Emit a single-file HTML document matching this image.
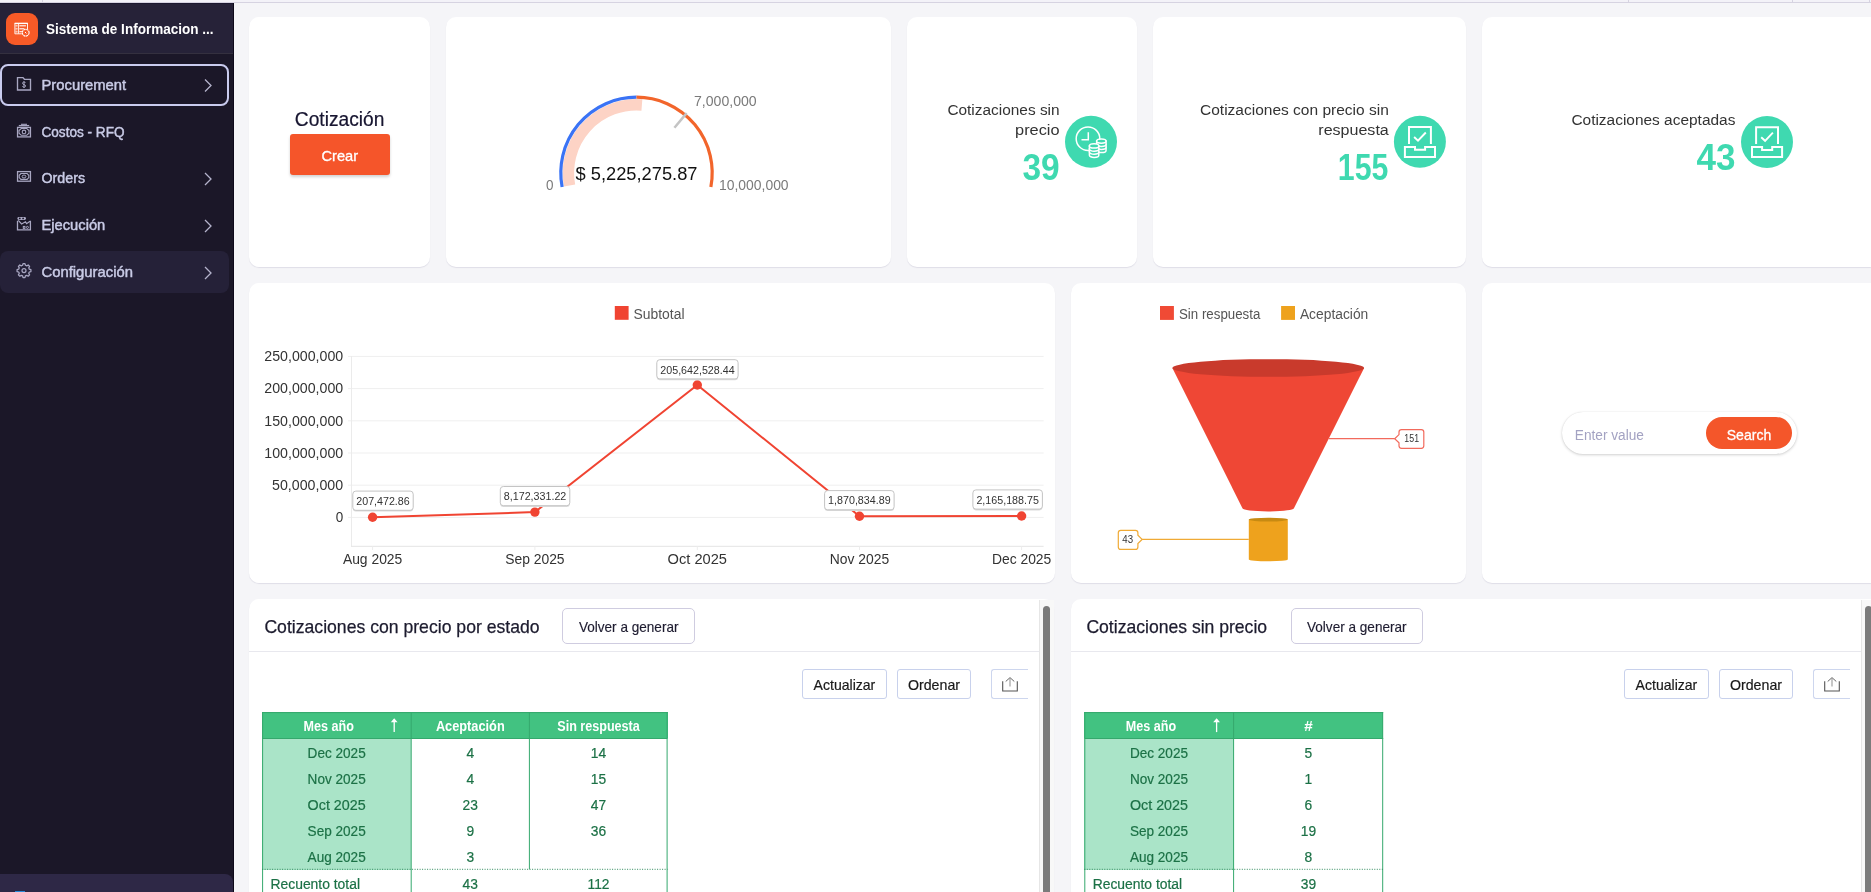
<!DOCTYPE html>
<html><head><meta charset="utf-8"><style>
html,body{margin:0;padding:0;}
body{width:1871px;height:892px;overflow:hidden;position:relative;background:#f5f5f8;font-family:"Liberation Sans", sans-serif;}
svg{position:absolute;left:0;top:0;will-change:transform;}
svg text{font-family:"Liberation Sans", sans-serif;}
</style></head><body>
<div style="position:absolute;left:0px;top:0px;width:1871px;height:2px;background:#f3f2f8;"></div>
<div style="position:absolute;left:0px;top:2px;width:1871px;height:1px;background:#d6d3e1;"></div>
<div style="position:absolute;left:42px;top:0px;width:1px;height:2px;background:#d6d3e1;"></div>
<div style="position:absolute;left:1628px;top:0px;width:1px;height:2px;background:#d6d3e1;"></div>
<div style="position:absolute;left:1792px;top:0px;width:1px;height:2px;background:#d6d3e1;"></div>
<div style="position:absolute;left:1869px;top:0px;width:1px;height:2px;background:#d6d3e1;"></div>
<div style="position:absolute;left:0px;top:3px;width:233px;height:889px;background:#1b1728;"></div>
<div style="position:absolute;left:233px;top:3px;width:1px;height:889px;background:#0e0a1a;"></div>
<div style="position:absolute;left:0px;top:3px;width:233px;height:1px;background:#1c1830;"></div>
<div style="position:absolute;left:0px;top:4px;width:233px;height:49px;background:#262238;"></div>
<div style="position:absolute;left:0px;top:53px;width:233px;height:1px;background:#34303f;"></div>
<div style="position:absolute;left:6px;top:13px;width:32px;height:32px;background:#f75a27;border-radius:9px;"></div>
<div style="position:absolute;left:0px;top:64px;width:225px;height:38px;border:2px solid #c9cbee;border-radius:8px;"></div>
<div style="position:absolute;left:0px;top:251px;width:229px;height:42px;background:#252138;border-radius:8px;"></div>
<div style="position:absolute;left:0px;top:874px;width:233px;height:30px;background:#2e2846;border-radius:0 8px 0 0;"></div>
<div style="position:absolute;left:15px;top:891px;width:10px;height:2px;background:#2a8ad8;"></div>
<div style="position:absolute;left:249px;top:17px;width:181px;height:250px;background:#fff;border-radius:10px;box-shadow:0 1px 1px rgba(40,30,90,0.10);"></div>
<div style="position:absolute;left:446px;top:17px;width:445px;height:250px;background:#fff;border-radius:10px;box-shadow:0 1px 1px rgba(40,30,90,0.10);"></div>
<div style="position:absolute;left:907px;top:17px;width:230px;height:250px;background:#fff;border-radius:10px;box-shadow:0 1px 1px rgba(40,30,90,0.10);"></div>
<div style="position:absolute;left:1153px;top:17px;width:313px;height:250px;background:#fff;border-radius:10px;box-shadow:0 1px 1px rgba(40,30,90,0.10);"></div>
<div style="position:absolute;left:1482px;top:17px;width:398px;height:250px;background:#fff;border-radius:10px;box-shadow:0 1px 1px rgba(40,30,90,0.10);"></div>
<div style="position:absolute;left:249px;top:283px;width:806px;height:300px;background:#fff;border-radius:10px;box-shadow:0 1px 1px rgba(40,30,90,0.10);"></div>
<div style="position:absolute;left:1071px;top:283px;width:395px;height:300px;background:#fff;border-radius:10px;box-shadow:0 1px 1px rgba(40,30,90,0.10);"></div>
<div style="position:absolute;left:1482px;top:283px;width:398px;height:300px;background:#fff;border-radius:10px;box-shadow:0 1px 1px rgba(40,30,90,0.10);"></div>
<div style="position:absolute;left:249px;top:599px;width:805px;height:320px;background:#fff;border-radius:10px;box-shadow:0 1px 1px rgba(40,30,90,0.10);"></div>
<div style="position:absolute;left:1071px;top:599px;width:820px;height:320px;background:#fff;border-radius:10px;box-shadow:0 1px 1px rgba(40,30,90,0.10);"></div>
<div style="position:absolute;left:290px;top:134px;width:100px;height:40.7px;background:#f5552a;border-radius:3px;box-shadow:0 2px 3px rgba(0,0,0,0.18);"></div>
<div style="position:absolute;left:1562px;top:411.5px;width:235px;height:42px;background:#fff;border-radius:21px;box-shadow:0 1px 3px rgba(0,0,0,0.18), 0 0 1px rgba(0,0,0,0.12);"></div>
<div style="position:absolute;left:1706px;top:417px;width:86px;height:32px;background:#f4562a;border-radius:16px;"></div>
<div style="position:absolute;left:562.4px;top:608.3px;width:132.5px;height:35.6px;border:1px solid #cfcce0;border-radius:5px;box-sizing:border-box;background:#fff;"></div>
<div style="position:absolute;left:249px;top:651px;width:790px;height:1px;background:#e8e8ee;"></div>
<div style="position:absolute;left:802.3px;top:669.4px;width:84.3px;height:30px;border:1px solid #c8d1ec;border-radius:3px;box-sizing:border-box;background:#fff;"></div>
<div style="position:absolute;left:897.4px;top:669.4px;width:73.2px;height:30px;border:1px solid #c8d1ec;border-radius:3px;box-sizing:border-box;background:#fff;"></div>
<div style="position:absolute;left:991.4px;top:669.1px;width:36.5px;height:30.4px;border:1px solid #cdd6ee;border-right:none;border-radius:3px 0 0 3px;box-sizing:border-box;background:#fff;"></div>
<div style="position:absolute;left:262.1px;top:712.1px;width:405.5px;height:26.4px;background:#42c281;"></div>
<div style="position:absolute;left:262.1px;top:738.5px;width:149.09999999999997px;height:131px;background:#aae4c8;"></div>
<div style="position:absolute;left:1039px;top:600px;width:15px;height:292px;background:#f8f8f8;border-left:1px solid #e6e6e6;box-sizing:border-box;"></div>
<div style="position:absolute;left:1043px;top:606px;width:7px;height:290px;background:#7b7b7b;border-radius:4px;"></div>
<div style="position:absolute;left:1290.5px;top:608.3px;width:132.5px;height:35.6px;border:1px solid #cfcce0;border-radius:5px;box-sizing:border-box;background:#fff;"></div>
<div style="position:absolute;left:1071px;top:651px;width:790px;height:1px;background:#e8e8ee;"></div>
<div style="position:absolute;left:1624.3px;top:669.4px;width:84.3px;height:30px;border:1px solid #c8d1ec;border-radius:3px;box-sizing:border-box;background:#fff;"></div>
<div style="position:absolute;left:1719.4px;top:669.4px;width:73.2px;height:30px;border:1px solid #c8d1ec;border-radius:3px;box-sizing:border-box;background:#fff;"></div>
<div style="position:absolute;left:1813.4px;top:669.1px;width:36.5px;height:30.4px;border:1px solid #cdd6ee;border-right:none;border-radius:3px 0 0 3px;box-sizing:border-box;background:#fff;"></div>
<div style="position:absolute;left:1084.3px;top:712.1px;width:298.9000000000001px;height:26.4px;background:#42c281;"></div>
<div style="position:absolute;left:1084.3px;top:738.5px;width:149.29999999999995px;height:131px;background:#aae4c8;"></div>
<div style="position:absolute;left:1861px;top:600px;width:15px;height:292px;background:#f8f8f8;border-left:1px solid #e6e6e6;box-sizing:border-box;"></div>
<div style="position:absolute;left:1865px;top:606px;width:7px;height:290px;background:#7b7b7b;border-radius:4px;"></div>
<svg width="1871" height="892" viewBox="0 0 1871 892">
<g stroke="#fff" fill="none" stroke-width="0.9"><path d="M21.8,33.8 H14.9 V23.4 H27.5 V29.3"/><line x1="14.6" y1="23.4" x2="27.8" y2="23.4" stroke-width="1.3"/><line x1="18.6" y1="24" x2="18.6" y2="33.6"/><line x1="19.4" y1="25.8" x2="25.9" y2="25.8" stroke-width="1.1"/><line x1="19.4" y1="28.8" x2="24.4" y2="28.8" stroke-width="1.1"/><line x1="19.4" y1="31.7" x2="21.9" y2="31.7" stroke-width="1.1"/><rect x="15.8" y="25.1" width="1.8" height="1.4" stroke-width="0.6" opacity="0.7"/><rect x="15.8" y="28.1" width="1.8" height="1.4" stroke-width="0.6" opacity="0.7"/><rect x="15.8" y="31" width="1.8" height="1.4" stroke-width="0.6" opacity="0.7"/></g><circle cx="25.7" cy="32.7" r="3.4" fill="#f75a27" stroke="#fff" stroke-width="1.1" stroke-dasharray="2.2,0.5"/><line x1="25" y1="32" x2="26.4" y2="33.4" stroke="#fff" stroke-width="1"/>
<text x="46" y="33.8" font-size="14" fill="#ffffff" font-weight="bold" text-anchor="start" textLength="167.5" lengthAdjust="spacingAndGlyphs">Sistema de Informacion ...</text>
<text x="41.5" y="89.8" font-size="14.3" fill="#c9cbe6" text-anchor="start" textLength="84.7" lengthAdjust="spacingAndGlyphs" stroke="#c9cbe6" stroke-width="0.45">Procurement</text>
<polyline points="205,79.5 211,85.5 205,91.5" fill="none" stroke="#b5b3cc" stroke-width="1.3"/>
<text x="41.5" y="137.0" font-size="14.3" fill="#c9cbe6" text-anchor="start" textLength="83.0" lengthAdjust="spacingAndGlyphs" stroke="#c9cbe6" stroke-width="0.45">Costos - RFQ</text>
<text x="41.5" y="183.3" font-size="14.3" fill="#c9cbe6" text-anchor="start" textLength="43.5" lengthAdjust="spacingAndGlyphs" stroke="#c9cbe6" stroke-width="0.45">Orders</text>
<polyline points="205,173 211,179 205,185" fill="none" stroke="#b5b3cc" stroke-width="1.3"/>
<text x="41.5" y="230.3" font-size="14.3" fill="#c9cbe6" text-anchor="start" textLength="63.8" lengthAdjust="spacingAndGlyphs" stroke="#c9cbe6" stroke-width="0.45">Ejecución</text>
<polyline points="205,220 211,226 205,232" fill="none" stroke="#b5b3cc" stroke-width="1.3"/>
<text x="41.5" y="277.3" font-size="14.3" fill="#c9cbe6" text-anchor="start" textLength="91.5" lengthAdjust="spacingAndGlyphs" stroke="#c9cbe6" stroke-width="0.45">Configuración</text>
<polyline points="205,267 211,273 205,279" fill="none" stroke="#b5b3cc" stroke-width="1.3"/>
<g fill="none" stroke="#a9a7c2" stroke-width="1.35"><path d="M17.5,90 V77.6 H23 L24.4,79.3 H30.5 V90 Z"/></g>
<g fill="none" stroke="#a9a7c2" stroke-width="1"><line x1="24" y1="81.2" x2="24" y2="88"/><path d="M25.5,82.9 C25.2,82.3 24.7,82 24,82 C23.1,82 22.5,82.5 22.5,83.3 C22.5,84.9 25.6,84.3 25.6,86 C25.6,86.8 24.9,87.2 24,87.2 C23.2,87.2 22.6,86.8 22.4,86.2"/></g>
<g fill="none" stroke="#a9a7c2" stroke-width="1.3"><rect x="17.55" y="127.4" width="12.9" height="9.5"/><path d="M18.8,125.6 H29.2" stroke-width="1.3"/><path d="M21,124.3 H27" stroke-width="1.1"/><path d="M21.25,128.5 H26.75 L29,130.6 V133.2 L26.75,135.3 H21.25 L19,133.2 V130.6 Z" stroke-width="1.1"/><circle cx="24" cy="131.9" r="1.8" stroke-width="1.1"/><rect x="17.55" y="171.6" width="12.9" height="9.6"/><path d="M20.9,173.5 H27.1 L28.8,175.3 V177.6 L27.1,179.4 H20.9 L19.2,177.6 V175.3 Z" stroke-width="1.1"/><ellipse cx="24" cy="176.5" rx="1.9" ry="1.5" stroke-width="1"/><path d="M17.5,220.7 V229.8 H30.4 V220.7"/><path d="M18.3,220.3 L21.6,223.9 L25.5,221.7 L26.6,223.7 L30,221.2" stroke-width="1.2"/><rect x="23.3" y="226.4" width="1.6" height="2" stroke-width="1"/><circle cx="27.4" cy="227.4" r="1.05" stroke-width="1"/></g>
<rect x="17.4" y="216.9" width="8.6" height="3" rx="1.4" fill="#a9a7c2"/>
<circle cx="19.8" cy="218.4" r="0.9" fill="#1b1728"/><circle cx="23.1" cy="218.4" r="0.9" fill="#1b1728"/>
<polygon points="22.58,265.29 23.03,263.67 24.97,263.67 25.42,265.29 26.75,265.84 28.21,265.01 29.59,266.39 28.76,267.85 29.31,269.18 30.93,269.63 30.93,271.57 29.31,272.02 28.76,273.35 29.59,274.81 28.21,276.19 26.75,275.36 25.42,275.91 24.97,277.53 23.03,277.53 22.58,275.91 21.25,275.36 19.79,276.19 18.41,274.81 19.24,273.35 18.69,272.02 17.07,271.57 17.07,269.63 18.69,269.18 19.24,267.85 18.41,266.39 19.79,265.01 21.25,265.84" fill="none" stroke="#a9a7c2" stroke-width="1.25" stroke-linejoin="round"/>
<circle cx="24" cy="270.6" r="2" fill="none" stroke="#a9a7c2" stroke-width="1.2"/>
<text x="339.6" y="125.7" font-size="19.5" fill="#171530" text-anchor="middle" textLength="89.6" lengthAdjust="spacingAndGlyphs" stroke="#171530" stroke-width="0.2">Cotización</text>
<text x="339.8" y="160.5" font-size="15" fill="#ffffff" text-anchor="middle" textLength="36.7" lengthAdjust="spacingAndGlyphs" stroke="#fff" stroke-width="0.3">Crear</text>
<path d="M569.58,185.54 A68.1,68.1 0 0 1 641.89,105.01" fill="none" stroke="#fdd3c5" stroke-width="11.4"/>
<path d="M562.12,186.95 A75.7,75.7 0 0 1 636.50,97.20" fill="none" stroke="#3a73f5" stroke-width="3.2"/>
<path d="M636.50,97.20 A75.7,75.7 0 0 1 710.88,186.95" fill="none" stroke="#f2652b" stroke-width="3.2"/>
<line x1="674.42" y1="127.70" x2="686.64" y2="113.15" stroke="#c4c4c4" stroke-width="2.5"/>
<text x="636.5" y="180" font-size="19.2" fill="#111" text-anchor="middle" textLength="122" lengthAdjust="spacingAndGlyphs">$ 5,225,275.87</text>
<text x="694" y="105.7" font-size="14.3" fill="#7a7a7a" text-anchor="start" textLength="62.7" lengthAdjust="spacingAndGlyphs">7,000,000</text>
<text x="719" y="189.7" font-size="14.3" fill="#7a7a7a" text-anchor="start" textLength="69.6" lengthAdjust="spacingAndGlyphs">10,000,000</text>
<text x="546" y="189.7" font-size="14.3" fill="#7a7a7a" text-anchor="start" textLength="7.5" lengthAdjust="spacingAndGlyphs">0</text>
<text x="1059.6" y="115.4" font-size="15.3" fill="#333333" text-anchor="end" textLength="112.2" lengthAdjust="spacingAndGlyphs">Cotizaciones sin</text>
<text x="1059.6" y="134.7" font-size="15.3" fill="#333333" text-anchor="end" textLength="44.5" lengthAdjust="spacingAndGlyphs">precio</text>
<text x="1388.8" y="115.4" font-size="15.3" fill="#333333" text-anchor="end" textLength="188.8" lengthAdjust="spacingAndGlyphs">Cotizaciones con precio sin</text>
<text x="1388.8" y="134.7" font-size="15.3" fill="#333333" text-anchor="end" textLength="70.5" lengthAdjust="spacingAndGlyphs">respuesta</text>
<text x="1735.4" y="124.6" font-size="15.3" fill="#333333" text-anchor="end" textLength="164" lengthAdjust="spacingAndGlyphs">Cotizaciones aceptadas</text>
<text x="1059.6" y="179.8" font-size="37" fill="#3fd9b0" font-weight="bold" text-anchor="end" textLength="37.2" lengthAdjust="spacingAndGlyphs">39</text>
<text x="1388.3" y="180.2" font-size="37" fill="#3fd9b0" font-weight="bold" text-anchor="end" textLength="50.5" lengthAdjust="spacingAndGlyphs">155</text>
<text x="1735.4" y="170.4" font-size="37" fill="#3fd9b0" font-weight="bold" text-anchor="end" textLength="39" lengthAdjust="spacingAndGlyphs">43</text>
<circle cx="1091" cy="141.8" r="26" fill="#3fd9b0"/>
<circle cx="1419.9" cy="141.8" r="26" fill="#3fd9b0"/>
<circle cx="1767" cy="142" r="26" fill="#3fd9b0"/>
<g transform="translate(1393.9,115.9)" fill="none" stroke="#fff" stroke-width="2"><path d="M15.1,28 V11.1 H37 V28"/><path d="M11,31 H21.1 V33.8 H31.2 V31 H41.1 V41 H11 Z"/><path d="M20.2,21.1 L24.1,24.7 L31.9,16.6" stroke-width="1.9"/></g>
<g transform="translate(1741,116.1)" fill="none" stroke="#fff" stroke-width="2"><path d="M15.1,28 V11.1 H37 V28"/><path d="M11,31 H21.1 V33.8 H31.2 V31 H41.1 V41 H11 Z"/><path d="M20.2,21.1 L24.1,24.7 L31.9,16.6" stroke-width="1.9"/></g>
<g transform="translate(1064.9,115.9)" stroke="#fff" stroke-width="1.5" fill="#3fd9b0"><circle cx="23.1" cy="22.8" r="11.8" fill="none"/><path d="M23.4,16.3 V23.8 H16.6" fill="none"/><path d="M31.750000000000004,31.400000000000002 V34.5 A4.7,2.2 0 0 0 41.150000000000006,34.5 V31.400000000000002 Z"/><path d="M31.750000000000004,28.300000000000004 V31.400000000000006 A4.7,2.2 0 0 0 41.150000000000006,31.400000000000006 V28.300000000000004 Z"/><path d="M31.750000000000004,25.200000000000003 V28.300000000000004 A4.7,2.2 0 0 0 41.150000000000006,28.300000000000004 V25.200000000000003 Z"/><ellipse cx="36.45" cy="25.200000000000003" rx="4.7" ry="2.2"/><path d="M24.5,36.2 V39.300000000000004 A4.7,2.2 0 0 0 33.9,39.300000000000004 V36.2 Z"/><path d="M24.5,33.1 V36.2 A4.7,2.2 0 0 0 33.9,36.2 V33.1 Z"/><path d="M24.5,30.0 V33.1 A4.7,2.2 0 0 0 33.9,33.1 V30.0 Z"/><ellipse cx="29.2" cy="30.0" rx="4.7" ry="2.2"/></g>
<rect x="614.8" y="306" width="13.8" height="13.8" fill="#f04432"/>
<text x="633.5" y="318.5" font-size="14" fill="#555555" text-anchor="start" textLength="51" lengthAdjust="spacingAndGlyphs">Subtotal</text>
<line x1="348" y1="356.4" x2="1043.6" y2="356.4" stroke="#efefef" stroke-width="1"/>
<text x="343.2" y="361.2" font-size="14" fill="#333333" text-anchor="end" textLength="78.9" lengthAdjust="spacingAndGlyphs">250,000,000</text>
<line x1="348" y1="388.6" x2="1043.6" y2="388.6" stroke="#efefef" stroke-width="1"/>
<text x="343.2" y="393.40000000000003" font-size="14" fill="#333333" text-anchor="end" textLength="78.9" lengthAdjust="spacingAndGlyphs">200,000,000</text>
<line x1="348" y1="420.8" x2="1043.6" y2="420.8" stroke="#efefef" stroke-width="1"/>
<text x="343.2" y="425.6" font-size="14" fill="#333333" text-anchor="end" textLength="78.9" lengthAdjust="spacingAndGlyphs">150,000,000</text>
<line x1="348" y1="453.0" x2="1043.6" y2="453.0" stroke="#efefef" stroke-width="1"/>
<text x="343.2" y="457.8" font-size="14" fill="#333333" text-anchor="end" textLength="78.9" lengthAdjust="spacingAndGlyphs">100,000,000</text>
<line x1="348" y1="485.2" x2="1043.6" y2="485.2" stroke="#efefef" stroke-width="1"/>
<text x="343.2" y="490.0" font-size="14" fill="#333333" text-anchor="end" textLength="71.2" lengthAdjust="spacingAndGlyphs">50,000,000</text>
<line x1="348" y1="517.4" x2="1043.6" y2="517.4" stroke="#efefef" stroke-width="1"/>
<text x="343.2" y="522.1999999999999" font-size="14" fill="#333333" text-anchor="end" textLength="7.5" lengthAdjust="spacingAndGlyphs">0</text>
<line x1="351.5" y1="356" x2="351.5" y2="546.3" stroke="#ebebeb" stroke-width="1"/>
<line x1="351" y1="546.3" x2="1043.6" y2="546.3" stroke="#e4e4e4" stroke-width="1"/>
<line x1="372.6" y1="546.3" x2="372.6" y2="550" stroke="#ededed" stroke-width="1"/>
<text x="372.6" y="563.6" font-size="13.8" fill="#333333" text-anchor="middle" textLength="59.4" lengthAdjust="spacingAndGlyphs">Aug 2025</text>
<line x1="534.9" y1="546.3" x2="534.9" y2="550" stroke="#ededed" stroke-width="1"/>
<text x="534.9" y="563.6" font-size="13.8" fill="#333333" text-anchor="middle" textLength="59.4" lengthAdjust="spacingAndGlyphs">Sep 2025</text>
<line x1="697.3" y1="546.3" x2="697.3" y2="550" stroke="#ededed" stroke-width="1"/>
<text x="697.3" y="563.6" font-size="13.8" fill="#333333" text-anchor="middle" textLength="59.4" lengthAdjust="spacingAndGlyphs">Oct 2025</text>
<line x1="859.5" y1="546.3" x2="859.5" y2="550" stroke="#ededed" stroke-width="1"/>
<text x="859.5" y="563.6" font-size="13.8" fill="#333333" text-anchor="middle" textLength="59.4" lengthAdjust="spacingAndGlyphs">Nov 2025</text>
<line x1="1021.6" y1="546.3" x2="1021.6" y2="550" stroke="#ededed" stroke-width="1"/>
<text x="1021.6" y="563.6" font-size="13.8" fill="#333333" text-anchor="middle" textLength="59.4" lengthAdjust="spacingAndGlyphs">Dec 2025</text>
<polyline points="372.6,517.3 534.9,512.1 697.3,385.0 859.5,516.2 1021.6,516.0" fill="none" stroke="#f04432" stroke-width="2"/>
<circle cx="372.6" cy="517.3" r="4.7" fill="#f04432"/>
<circle cx="534.9" cy="512.1" r="4.7" fill="#f04432"/>
<circle cx="697.3" cy="385.0" r="4.7" fill="#f04432"/>
<circle cx="859.5" cy="516.2" r="4.7" fill="#f04432"/>
<circle cx="1021.6" cy="516.0" r="4.7" fill="#f04432"/>
<rect x="352.8" y="492.1" width="60.4" height="19.5" rx="3" fill="#dcdcdc"/>
<rect x="352.8" y="491.1" width="60.4" height="19.2" rx="3" fill="#fff" stroke="#c4c4c4" stroke-width="1"/>
<text x="383.0" y="504.90000000000003" font-size="11.3" fill="#333333" text-anchor="middle" textLength="53.4" lengthAdjust="spacingAndGlyphs">207,472.86</text>
<rect x="500.3" y="487.5" width="69.5" height="19.5" rx="3" fill="#dcdcdc"/>
<rect x="500.3" y="486.5" width="69.5" height="19.2" rx="3" fill="#fff" stroke="#c4c4c4" stroke-width="1"/>
<text x="535.05" y="500.3" font-size="11.3" fill="#333333" text-anchor="middle" textLength="62.5" lengthAdjust="spacingAndGlyphs">8,172,331.22</text>
<rect x="656.8" y="360.7" width="81.3" height="19.5" rx="3" fill="#dcdcdc"/>
<rect x="656.8" y="359.7" width="81.3" height="19.2" rx="3" fill="#fff" stroke="#c4c4c4" stroke-width="1"/>
<text x="697.4499999999999" y="373.5" font-size="11.3" fill="#333333" text-anchor="middle" textLength="74.3" lengthAdjust="spacingAndGlyphs">205,642,528.44</text>
<rect x="824.6" y="491.6" width="69.5" height="19.5" rx="3" fill="#dcdcdc"/>
<rect x="824.6" y="490.6" width="69.5" height="19.2" rx="3" fill="#fff" stroke="#c4c4c4" stroke-width="1"/>
<text x="859.35" y="504.40000000000003" font-size="11.3" fill="#333333" text-anchor="middle" textLength="62.5" lengthAdjust="spacingAndGlyphs">1,870,834.89</text>
<rect x="972.9" y="490.9" width="69.5" height="19.5" rx="3" fill="#dcdcdc"/>
<rect x="972.9" y="489.9" width="69.5" height="19.2" rx="3" fill="#fff" stroke="#c4c4c4" stroke-width="1"/>
<text x="1007.65" y="503.7" font-size="11.3" fill="#333333" text-anchor="middle" textLength="62.5" lengthAdjust="spacingAndGlyphs">2,165,188.75</text>
<rect x="1160" y="306" width="13.9" height="13.9" fill="#f04a35"/>
<text x="1179" y="318.5" font-size="14" fill="#555555" text-anchor="start" textLength="81.3" lengthAdjust="spacingAndGlyphs">Sin respuesta</text>
<rect x="1281.1" y="306" width="13.9" height="13.9" fill="#eea21d"/>
<text x="1299.9" y="318.5" font-size="14" fill="#555555" text-anchor="start" textLength="68.4" lengthAdjust="spacingAndGlyphs">Aceptación</text>
<path d="M1172.4,368 L1242.6,508.6 Q1244,511 1268.2,511.5 Q1292.4,511 1293.8,508.6 L1364.1,368 Z" fill="#ef4735"/>
<ellipse cx="1268.25" cy="368" rx="95.85" ry="8.8" fill="#c93a2c"/>
<line x1="1328.8" y1="438.7" x2="1394.7" y2="438.7" stroke="#f26a5c" stroke-width="1.2"/>
<path d="M1394.7,438.7 L1399,434.6 V432 Q1399,429.6 1401.5,429.6 H1421.3 Q1423.8,429.6 1423.8,432 V445.8 Q1423.8,448.3 1421.3,448.3 H1401.5 Q1399,448.3 1399,445.8 V442.8 Z" fill="#fff" stroke="#f26a5c" stroke-width="1.2"/>
<text x="1411.7" y="442.2" font-size="10.5" fill="#333333" text-anchor="middle" textLength="14.7" lengthAdjust="spacingAndGlyphs">151</text>
<path d="M1248.8,519.6 V559.5 A19.5,1.8 0 0 0 1287.8,559.5 V519.6 Z" fill="#eea21d"/>
<ellipse cx="1268.3" cy="519.6" rx="19.5" ry="1.9" fill="#c78a12"/>
<line x1="1142.1" y1="539.4" x2="1248.8" y2="539.4" stroke="#f0aa35" stroke-width="1.2"/>
<path d="M1142.1,539.4 L1137.9,535.3 V532.8 Q1137.9,530.4 1135.4,530.4 H1120.8 Q1118.3,530.4 1118.3,532.8 V546.9 Q1118.3,549.4 1120.8,549.4 H1135.4 Q1137.9,549.4 1137.9,546.9 V543.5 Z" fill="#fff" stroke="#f0aa35" stroke-width="1.2"/>
<text x="1127.7" y="542.9" font-size="10.5" fill="#333333" text-anchor="middle" textLength="10.8" lengthAdjust="spacingAndGlyphs">43</text>
<text x="1574.8" y="440" font-size="14" fill="#a3a2c2" text-anchor="start" textLength="69.1" lengthAdjust="spacingAndGlyphs">Enter value</text>
<text x="1749" y="440" font-size="14.6" fill="#ffffff" text-anchor="middle" textLength="44.5" lengthAdjust="spacingAndGlyphs" stroke="#fff" stroke-width="0.3">Search</text>
<text x="264.4" y="633.3" font-size="18.6" fill="#1c1b2e" text-anchor="start" textLength="275.2" lengthAdjust="spacingAndGlyphs" stroke="#1c1b2e" stroke-width="0.25">Cotizaciones con precio por estado</text>
<text x="628.6999999999999" y="631.8" font-size="14.3" fill="#1e1c30" text-anchor="middle" textLength="99.6" lengthAdjust="spacingAndGlyphs" stroke="#1e1c30" stroke-width="0.15">Volver a generar</text>
<text x="844.4499999999999" y="689.5" font-size="14.4" fill="#1a1a1a" text-anchor="middle" textLength="61.7" lengthAdjust="spacingAndGlyphs" stroke="#1a1a1a" stroke-width="0.2">Actualizar</text>
<text x="934.0" y="689.5" font-size="14.4" fill="#1a1a1a" text-anchor="middle" textLength="52.1" lengthAdjust="spacingAndGlyphs" stroke="#1a1a1a" stroke-width="0.2">Ordenar</text>
<path d="M1002.7,681.3 V691 H1017.3 V681.3" fill="none" stroke="#555" stroke-width="1.1"/>
<path d="M1005.7,681.5 L1010,677.6 L1014.3,681.5" fill="none" stroke="#666" stroke-width="1"/>
<line x1="1010" y1="678" x2="1010" y2="686.6" stroke="#999" stroke-width="1.1"/>
<line x1="262.1" y1="712.6" x2="667.6" y2="712.6" stroke="#35a86d" stroke-width="1"/>
<line x1="262.1" y1="738.5" x2="667.6" y2="738.5" stroke="#35a86d" stroke-width="1.2"/>
<line x1="262.6" y1="712.1" x2="262.6" y2="892" stroke="#35a86d" stroke-width="1"/>
<line x1="667.1" y1="712.1" x2="667.1" y2="892" stroke="#35a86d" stroke-width="1"/>
<line x1="411.2" y1="712.1" x2="411.2" y2="892" stroke="#35a86d" stroke-width="1"/>
<line x1="529.4" y1="712.1" x2="529.4" y2="869.3" stroke="#35a86d" stroke-width="1"/>
<line x1="262.1" y1="869.3" x2="667.6" y2="869.3" stroke="#2f8a5c" stroke-width="1" stroke-dasharray="1,1.5"/>
<text x="328.65" y="730.9" font-size="14" fill="#ffffff" font-weight="bold" text-anchor="middle" textLength="50.4" lengthAdjust="spacingAndGlyphs">Mes año</text>
<text x="470.29999999999995" y="730.9" font-size="14" fill="#ffffff" font-weight="bold" text-anchor="middle" textLength="68.8" lengthAdjust="spacingAndGlyphs">Aceptación</text>
<text x="598.5" y="730.9" font-size="14" fill="#ffffff" font-weight="bold" text-anchor="middle" textLength="82.5" lengthAdjust="spacingAndGlyphs">Sin respuesta</text>
<line x1="394.2" y1="719.5" x2="394.2" y2="732.1" stroke="#fff" stroke-width="1.3"/>
<path d="M390.8,722.3 L394.2,718.3 L397.59999999999997,722.3 Z" fill="#fff"/>
<text x="336.65" y="757.9" font-size="13.8" fill="#1c7146" text-anchor="middle" textLength="58.1" lengthAdjust="spacingAndGlyphs" stroke="#1c7146" stroke-width="0.2">Dec 2025</text>
<text x="470.29999999999995" y="757.9" font-size="13.8" fill="#1c7146" text-anchor="middle" stroke="#1c7146" stroke-width="0.2">4</text>
<text x="598.5" y="757.9" font-size="13.8" fill="#1c7146" text-anchor="middle" stroke="#1c7146" stroke-width="0.2">14</text>
<text x="336.65" y="783.9" font-size="13.8" fill="#1c7146" text-anchor="middle" textLength="58.1" lengthAdjust="spacingAndGlyphs" stroke="#1c7146" stroke-width="0.2">Nov 2025</text>
<text x="470.29999999999995" y="783.9" font-size="13.8" fill="#1c7146" text-anchor="middle" stroke="#1c7146" stroke-width="0.2">4</text>
<text x="598.5" y="783.9" font-size="13.8" fill="#1c7146" text-anchor="middle" stroke="#1c7146" stroke-width="0.2">15</text>
<text x="336.65" y="809.9" font-size="13.8" fill="#1c7146" text-anchor="middle" textLength="58.1" lengthAdjust="spacingAndGlyphs" stroke="#1c7146" stroke-width="0.2">Oct 2025</text>
<text x="470.29999999999995" y="809.9" font-size="13.8" fill="#1c7146" text-anchor="middle" stroke="#1c7146" stroke-width="0.2">23</text>
<text x="598.5" y="809.9" font-size="13.8" fill="#1c7146" text-anchor="middle" stroke="#1c7146" stroke-width="0.2">47</text>
<text x="336.65" y="835.9" font-size="13.8" fill="#1c7146" text-anchor="middle" textLength="58.1" lengthAdjust="spacingAndGlyphs" stroke="#1c7146" stroke-width="0.2">Sep 2025</text>
<text x="470.29999999999995" y="835.9" font-size="13.8" fill="#1c7146" text-anchor="middle" stroke="#1c7146" stroke-width="0.2">9</text>
<text x="598.5" y="835.9" font-size="13.8" fill="#1c7146" text-anchor="middle" stroke="#1c7146" stroke-width="0.2">36</text>
<text x="336.65" y="861.9" font-size="13.8" fill="#1c7146" text-anchor="middle" textLength="58.1" lengthAdjust="spacingAndGlyphs" stroke="#1c7146" stroke-width="0.2">Aug 2025</text>
<text x="470.29999999999995" y="861.9" font-size="13.8" fill="#1c7146" text-anchor="middle" stroke="#1c7146" stroke-width="0.2">3</text>
<text x="270.5" y="888.9" font-size="13.8" fill="#1c7146" text-anchor="start" textLength="89.5" lengthAdjust="spacingAndGlyphs" stroke="#1c7146" stroke-width="0.2">Recuento total</text>
<text x="470.29999999999995" y="888.9" font-size="13.8" fill="#1c7146" text-anchor="middle" stroke="#1c7146" stroke-width="0.2">43</text>
<text x="598.5" y="888.9" font-size="13.8" fill="#1c7146" text-anchor="middle" stroke="#1c7146" stroke-width="0.2">112</text>
<text x="1086.4" y="633.3" font-size="18.6" fill="#1c1b2e" text-anchor="start" textLength="180.7" lengthAdjust="spacingAndGlyphs" stroke="#1c1b2e" stroke-width="0.25">Cotizaciones sin precio</text>
<text x="1356.8" y="631.8" font-size="14.3" fill="#1e1c30" text-anchor="middle" textLength="99.6" lengthAdjust="spacingAndGlyphs" stroke="#1e1c30" stroke-width="0.15">Volver a generar</text>
<text x="1666.45" y="689.5" font-size="14.4" fill="#1a1a1a" text-anchor="middle" textLength="61.7" lengthAdjust="spacingAndGlyphs" stroke="#1a1a1a" stroke-width="0.2">Actualizar</text>
<text x="1756.0" y="689.5" font-size="14.4" fill="#1a1a1a" text-anchor="middle" textLength="52.1" lengthAdjust="spacingAndGlyphs" stroke="#1a1a1a" stroke-width="0.2">Ordenar</text>
<path d="M1824.7,681.3 V691 H1839.3 V681.3" fill="none" stroke="#555" stroke-width="1.1"/>
<path d="M1827.7,681.5 L1832,677.6 L1836.3,681.5" fill="none" stroke="#666" stroke-width="1"/>
<line x1="1832" y1="678" x2="1832" y2="686.6" stroke="#999" stroke-width="1.1"/>
<line x1="1084.3" y1="712.6" x2="1383.2" y2="712.6" stroke="#35a86d" stroke-width="1"/>
<line x1="1084.3" y1="738.5" x2="1383.2" y2="738.5" stroke="#35a86d" stroke-width="1.2"/>
<line x1="1084.8" y1="712.1" x2="1084.8" y2="892" stroke="#35a86d" stroke-width="1"/>
<line x1="1382.7" y1="712.1" x2="1382.7" y2="892" stroke="#35a86d" stroke-width="1"/>
<line x1="1233.6" y1="712.1" x2="1233.6" y2="892" stroke="#35a86d" stroke-width="1"/>
<line x1="1084.3" y1="869.3" x2="1383.2" y2="869.3" stroke="#2f8a5c" stroke-width="1" stroke-dasharray="1,1.5"/>
<text x="1150.9499999999998" y="730.9" font-size="14" fill="#ffffff" font-weight="bold" text-anchor="middle" textLength="50.4" lengthAdjust="spacingAndGlyphs">Mes año</text>
<text x="1308.4" y="730.9" font-size="14" fill="#ffffff" font-weight="bold" text-anchor="middle" textLength="8.5" lengthAdjust="spacingAndGlyphs">#</text>
<line x1="1216.6" y1="719.5" x2="1216.6" y2="732.1" stroke="#fff" stroke-width="1.3"/>
<path d="M1213.1999999999998,722.3 L1216.6,718.3 L1220.0,722.3 Z" fill="#fff"/>
<text x="1158.9499999999998" y="757.9" font-size="13.8" fill="#1c7146" text-anchor="middle" textLength="58.1" lengthAdjust="spacingAndGlyphs" stroke="#1c7146" stroke-width="0.2">Dec 2025</text>
<text x="1308.4" y="757.9" font-size="13.8" fill="#1c7146" text-anchor="middle" stroke="#1c7146" stroke-width="0.2">5</text>
<text x="1158.9499999999998" y="783.9" font-size="13.8" fill="#1c7146" text-anchor="middle" textLength="58.1" lengthAdjust="spacingAndGlyphs" stroke="#1c7146" stroke-width="0.2">Nov 2025</text>
<text x="1308.4" y="783.9" font-size="13.8" fill="#1c7146" text-anchor="middle" stroke="#1c7146" stroke-width="0.2">1</text>
<text x="1158.9499999999998" y="809.9" font-size="13.8" fill="#1c7146" text-anchor="middle" textLength="58.1" lengthAdjust="spacingAndGlyphs" stroke="#1c7146" stroke-width="0.2">Oct 2025</text>
<text x="1308.4" y="809.9" font-size="13.8" fill="#1c7146" text-anchor="middle" stroke="#1c7146" stroke-width="0.2">6</text>
<text x="1158.9499999999998" y="835.9" font-size="13.8" fill="#1c7146" text-anchor="middle" textLength="58.1" lengthAdjust="spacingAndGlyphs" stroke="#1c7146" stroke-width="0.2">Sep 2025</text>
<text x="1308.4" y="835.9" font-size="13.8" fill="#1c7146" text-anchor="middle" stroke="#1c7146" stroke-width="0.2">19</text>
<text x="1158.9499999999998" y="861.9" font-size="13.8" fill="#1c7146" text-anchor="middle" textLength="58.1" lengthAdjust="spacingAndGlyphs" stroke="#1c7146" stroke-width="0.2">Aug 2025</text>
<text x="1308.4" y="861.9" font-size="13.8" fill="#1c7146" text-anchor="middle" stroke="#1c7146" stroke-width="0.2">8</text>
<text x="1092.7" y="888.9" font-size="13.8" fill="#1c7146" text-anchor="start" textLength="89.5" lengthAdjust="spacingAndGlyphs" stroke="#1c7146" stroke-width="0.2">Recuento total</text>
<text x="1308.4" y="888.9" font-size="13.8" fill="#1c7146" text-anchor="middle" stroke="#1c7146" stroke-width="0.2">39</text>
</svg>
</body></html>
